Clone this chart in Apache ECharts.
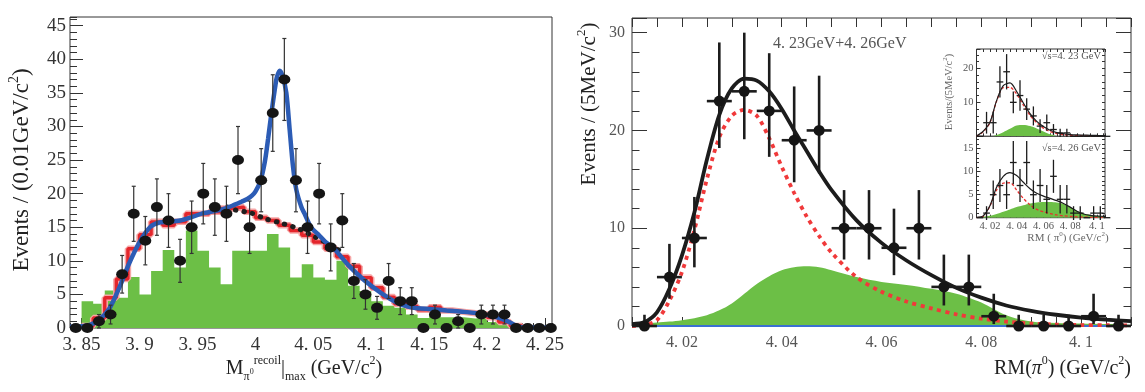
<!DOCTYPE html>
<html>
<head>
<meta charset="utf-8">
<script src="https://cdn.jsdelivr.net/npm/echarts@6/dist/echarts.min.js"></script>
<style>
html, body { margin: 0; padding: 0; background: #fff; }
#main { width: 1145px; height: 392px; }
</style>
</head>
<body>
<div id="main"></div>
<script>
// ---------- left panel: M(pi0 recoil)|max ----------
var leftCenters = [3.845, 3.855, 3.865, 3.875, 3.885, 3.895, 3.905, 3.915, 3.925, 3.935, 3.945, 3.955, 3.965, 3.975,
    3.985, 3.995, 4.005, 4.015, 4.025, 4.035, 4.045, 4.055, 4.065, 4.075, 4.085, 4.095, 4.105, 4.115, 4.125, 4.135,
    4.145, 4.155, 4.165, 4.175, 4.185, 4.195, 4.205, 4.215, 4.225, 4.235, 4.245, 4.255];
var leftCounts = [0, 0, 1, 2, 8, 17, 13, 18, 16, 10, 15, 20, 18, 17, 25, 15, 22, 32, 37, 22, 15, 20, 12, 16, 7, 5, 3, 7,
    4, 4, 0, 2, 0, 1, 0, 2, 2, 2, 0, 0, 0, 0];
var leftErr = [0, 0, 1, 1.4, 2.8, 4.1, 3.6, 4.2, 4, 3.2, 3.9, 4.5, 4.2, 4.1, 5, 3.9, 4.7, 5.7, 6.1, 4.7, 3.9, 4.5, 3.5, 4,
    2.6, 2.2, 1.7, 2.6, 2, 2, 0, 1.4, 0, 1, 0, 1.4, 1.4, 1.4, 0, 0, 0, 0];
// green histogram, bin low edges
var leftGreenLo = [3.85, 3.86, 3.87, 3.88, 3.89, 3.90, 3.91, 3.92, 3.93, 3.94, 3.95, 3.96, 3.97, 3.98, 3.99, 4.00, 4.01,
    4.02, 4.03, 4.04, 4.05, 4.06, 4.07, 4.08, 4.09, 4.10, 4.11, 4.12, 4.13, 4.14, 4.15, 4.16, 4.17, 4.18, 4.19, 4.20, 4.21, 4.22];
var leftGreen = [4.0, 3.6, 5.6, 4.5, 7.6, 5.0, 8.5, 11.6, 9.0, 14.5, 11.5, 9.0, 6.5, 11.5, 11.5, 11.5, 14.0, 12.0, 7.5, 9.5,
    7.5, 7.2, 10.0, 6.3, 5.5, 4.0, 3.3, 3.0, 2.0, 1.5, 2.0, 1.6, 1.6, 1.4, 1.6, 0.9, 0.5, 0];
// red histogram, bin low edges
var leftRedLo = [3.85, 3.86, 3.87, 3.88, 3.89, 3.90, 3.91, 3.92, 3.93, 3.94, 3.95, 3.96, 3.97, 3.98, 3.99, 4.00, 4.01,
    4.02, 4.03, 4.04, 4.05, 4.06, 4.07, 4.08, 4.09, 4.10, 4.11, 4.12, 4.13, 4.14, 4.15, 4.16, 4.17, 4.18, 4.19, 4.20, 4.21, 4.22, 4.23];
var leftRed = [0.3, 1.5, 4.5, 7.3, 11.8, 13.9, 15.8, 15.3, 15.8, 17.0, 17.0, 17.3, 17.8, 18.0, 17.3, 16.4, 16.0, 15.3, 14.5,
    13.8, 12.8, 11.8, 10.6, 9.2, 7.5, 6.0, 4.6, 3.6, 3.2, 2.7, 3.1, 2.6, 2.4, 2.2, 2.0, 1.6, 0.9, 0.3, 0];
// blue total fit
var leftFitX = [3.84, 3.85, 3.857, 3.865, 3.874, 3.883, 3.891, 3.9, 3.909, 3.917, 3.925, 3.935, 3.945, 3.955, 3.965, 3.972,
    3.98, 3.988, 3.993, 3.997, 4.0, 4.004, 4.008, 4.011, 4.014, 4.017, 4.0185, 4.021, 4.0235, 4.0267, 4.0296, 4.0325, 4.0353,
    4.0397, 4.0425, 4.048, 4.055, 4.06, 4.068, 4.08, 4.094, 4.1086, 4.123, 4.1316, 4.14, 4.152, 4.165, 4.18, 4.195, 4.206,
    4.215, 4.224, 4.23, 4.256];
var leftFitY = [0.2, 0.25, 0.45, 1.2, 2.9, 6.2, 9.6, 12.8, 15.0, 15.7, 15.8, 16.0, 16.5, 17.1, 17.4, 17.7, 18.2, 18.8, 19.2,
    19.7, 20.3, 21.7, 24.6, 28.2, 32.2, 35.8, 37.3, 38.3, 37.5, 35.0, 29.5, 24.0, 20.6, 18.0, 17.0, 15.0, 13.8, 12.9, 11.8,
    9.4, 7.1, 5.2, 3.7, 3.2, 2.95, 2.8, 2.6, 2.4, 2.1, 1.7, 1.2, 0.45, 0.1, 0.05];
// black dotted background (visible part)
var leftBkgX = [3.976, 3.982, 3.9966, 4.008, 4.0224, 4.0368, 4.051, 4.0655, 4.072];
var leftBkgY = [18.0, 17.6, 17.1, 16.3, 15.6, 14.8, 13.6, 12.3, 11.6];
var leftXTicks = [3.85, 3.9, 3.95, 4, 4.05, 4.1, 4.15, 4.2, 4.25];
var leftXLabels = ['3. 85', '3. 9', '3. 95', '4', '4. 05', '4. 1', '4. 15', '4. 2', '4. 25'];
var leftYTicks = [0, 5, 10, 15, 20, 25, 30, 35, 40, 45];

// ---------- right panel: RM(pi0), 4.23+4.26 GeV ----------
var rmCenters = [4.0125, 4.0175, 4.0225, 4.0275, 4.0325, 4.0375, 4.0425, 4.0475, 4.0525, 4.0575, 4.0625, 4.0675, 4.0725,
    4.0775, 4.0825, 4.0875, 4.0925, 4.0975, 4.1025, 4.1075];
var rmCounts = [0, 5, 9, 23, 24, 22, 19, 20, 10, 10, 8, 10, 4, 4, 1, 0, 0, 0, 1, 0];
var rmErrLo = [0, 2.2, 3.0, 4.8, 4.9, 4.7, 4.3, 4.4, 3.2, 3.2, 2.8, 3.2, 1.9, 1.9, 0.8, 0, 0, 0, 0.8, 0];
var rmErrHi = [1.15, 3.4, 4.2, 6.0, 6.0, 5.9, 5.5, 5.6, 3.9, 3.9, 4.0, 3.9, 3.3, 3.3, 2.3, 1.15, 1.15, 1.15, 2.3, 1.15];
var rmCurveX = [4.01, 4.0125, 4.015, 4.0175, 4.02, 4.0225, 4.025, 4.0275, 4.03, 4.0325, 4.035, 4.0375, 4.04, 4.0425, 4.045,
    4.0475, 4.05, 4.055, 4.06, 4.065, 4.07, 4.075, 4.08, 4.085, 4.09, 4.095, 4.1, 4.105, 4.11];
var rmTotal = [0.2, 0.4, 1.4, 3.8, 7.2, 11.6, 17.0, 21.6, 24.3, 25.3, 25.1, 24.0, 22.2, 20.0, 17.9, 15.8, 13.9, 10.8, 8.5,
    6.7, 5.2, 3.9, 2.9, 2.1, 1.55, 1.15, 0.85, 0.65, 0.5];
var rmSignal = [0, 0.1, 0.6, 2.6, 5.5, 9.8, 15.0, 19.3, 21.5, 22.1, 21.5, 19.2, 16.3, 13.6, 11.2, 9.2, 7.5, 5.0, 3.5, 2.5,
    1.8, 1.2, 0.75, 0.45, 0.25, 0.15, 0.1, 0.08, 0.06];
var rmBkg = [0.2, 0.25, 0.35, 0.45, 0.6, 0.8, 1.1, 1.6, 2.3, 3.3, 4.3, 5.1, 5.7, 6.0, 6.1, 6.0, 5.7, 5.0, 4.5, 4.2, 3.8, 3.3,
    2.4, 1.1, 0.45, 0.3, 0.25, 0.2, 0.2];
var rmXTicks = [4.02, 4.04, 4.06, 4.08, 4.1];
var rmXLabels = ['4. 02', '4. 04', '4. 06', '4. 08', '4. 1'];
var rmYTicks = [0, 10, 20, 30];

// ---------- inset: 4.23 GeV (top) and 4.26 GeV (bottom) ----------
var insCenters = rmCenters;
var insCurveX = [4.01, 4.015, 4.02, 4.025, 4.03, 4.035, 4.04, 4.045, 4.05, 4.055, 4.06, 4.065, 4.07, 4.075, 4.08, 4.085,
    4.09, 4.095, 4.1, 4.105, 4.11];
var i423Counts = [0, 4, 4, 16, 19, 10, 12, 8, 6, 3, 4, 2, 1, 1, 0, 0, 0, 0, 0, 0];
var i423Err = [0, 3.2, 3.2, 4.6, 5.2, 3.2, 4.5, 3.2, 2.8, 2.0, 2.4, 1.6, 1.2, 1.2, 0, 0, 0, 0, 0, 0];
var i423Total = [0.1, 1.5, 4.1, 10.5, 14.9, 15.7, 13.2, 9.8, 6.7, 4.4, 2.9, 1.8, 1.1, 0.75, 0.5, 0.4, 0.35, 0.3, 0.25, 0.22, 0.2];
var i423Signal = [0, 1.3, 4.0, 10.3, 14.3, 14.4, 12.4, 9.2, 6.2, 4.0, 2.4, 1.4, 0.8, 0.5, 0.3, 0.2, 0.12, 0.08, 0.05, 0.03, 0.02];
var i423Bkg = [0, 0, 0, 0.4, 1.2, 2.2, 3.2, 3.3, 3.0, 2.3, 1.4, 0.6, 0.1, 0, 0, 0, 0, 0, 0, 0, 0];
var i426Counts = [0, 1, 5, 7, 5, 12, 7, 12, 5, 7, 4, 9, 4, 4, 1, 1, 0, 1, 1, 0];
var i426Err = [0, 1.5, 3.1, 3.6, 3.1, 4.7, 3.6, 4.7, 3.1, 3.6, 3.1, 3.6, 3.1, 3.1, 1.5, 1.5, 0, 1.5, 1.5, 0];
var i426Total = [0.1, 0.4, 2.6, 6.6, 9.0, 9.8, 9.2, 7.7, 6.3, 5.3, 4.7, 4.2, 3.7, 3.1, 2.3, 1.4, 0.8, 0.5, 0.35, 0.3, 0.25];
var i426Signal = [0, 0.3, 2.5, 6.0, 7.5, 7.6, 6.0, 4.2, 2.8, 1.8, 1.3, 0.9, 0.6, 0.4, 0.3, 0.2, 0.12, 0.08, 0.05, 0.03, 0.02];
var i426Bkg = [0.1, 0.2, 0.4, 0.8, 1.3, 1.8, 2.3, 2.7, 3.1, 3.3, 3.4, 3.4, 3.3, 3.0, 2.3, 1.5, 0.9, 0.6, 0.4, 0.3, 0.25];
var insXTicks = [4.02, 4.04, 4.06, 4.08, 4.1];
var insXLabels = ['4. 02', '4. 04', '4. 06', '4. 08', '4. 1'];

var binHalf = 0.0025;
var SERIF = 'Liberation Serif';
var GREEN = '#6cbf46';

function zip(xs, ys) {
    return xs.map(function (x, i) { return [x, ys[i]]; });
}
function pick(ticks, labels) {
    return function (v) {
        for (var i = 0; i < ticks.length; i++) {
            if (Math.abs(ticks[i] - v) < 1e-6) return labels[i];
        }
        return '';
    };
}
// thin vertical error bar with small caps (left panel)
function capBars(params, api) {
    var x = api.value(0), y = api.value(1), e = api.value(2);
    if (!(e > 0)) return { type: 'group', children: [] };
    var a = api.coord([x, y + e]), b = api.coord([x, y - e]);
    var s = { stroke: '#333', lineWidth: 1.2 };
    return {
        type: 'group', children: [
            { type: 'line', shape: { x1: a[0], y1: a[1], x2: b[0], y2: b[1] }, style: s },
            { type: 'line', shape: { x1: a[0] - 2, y1: a[1], x2: a[0] + 2, y2: a[1] }, style: s },
            { type: 'line', shape: { x1: b[0] - 2, y1: b[1], x2: b[0] + 2, y2: b[1] }, style: s }
        ]
    };
}
// cross error bars (x half-bin, y lo/hi)
function crossBars(width) {
    return function (params, api) {
        var x = api.value(0), y = api.value(1), lo = api.value(2), hi = api.value(3), hw = api.value(4);
        var l = api.coord([x - hw, y]), r = api.coord([x + hw, y]);
        var t = api.coord([x, y + hi]), b = api.coord([x, y - lo]);
        var s = { stroke: '#1c1c1c', lineWidth: width };
        return {
            type: 'group', children: [
                { type: 'line', shape: { x1: l[0], y1: l[1], x2: r[0], y2: r[1] }, style: s },
                { type: 'line', shape: { x1: t[0], y1: t[1], x2: b[0], y2: b[1] }, style: s }
            ]
        };
    };
}

function tickAxis(o) {
    var ax = {
        type: 'value',
        gridIndex: o.grid,
        min: o.min, max: o.max,
        position: o.pos,
        axisLine: { show: false, onZero: false },
        splitLine: { show: false },
        axisTick: { show: true, inside: true, length: o.len, lineStyle: { color: '#333', width: 1 } },
        axisLabel: { show: false }
    };
    if (o.interval) ax.interval = o.interval;
    if (o.ticks) ax.axisTick.customValues = o.ticks;
    if (o.labels) {
        ax.axisLabel = {
            show: true, customValues: o.labels, formatter: o.fmt,
            fontFamily: SERIF, fontSize: o.fs, color: o.color, margin: o.margin
        };
    }
    return ax;
}

var chart = echarts.init(document.getElementById('main'));

var xAxes = [
    tickAxis({ grid: 0, min: 3.84, max: 4.256, pos: 'bottom', len: 10, ticks: leftXTicks, labels: leftXTicks,
        fmt: pick(leftXTicks, leftXLabels), fs: 19, color: '#333', margin: 8 }),
    tickAxis({ grid: 0, min: 3.84, max: 4.256, pos: 'bottom', len: 5, interval: 0.01 }),
    tickAxis({ grid: 1, min: 4.01, max: 4.11, pos: 'bottom', len: 9, interval: 0.005, labels: rmXTicks,
        fmt: pick(rmXTicks, rmXLabels), fs: 16, color: '#555', margin: 9 }),
    tickAxis({ grid: 1, min: 4.01, max: 4.11, pos: 'top', len: 9, interval: 0.005 }),
    tickAxis({ grid: 2, min: 4.01, max: 4.106, pos: 'bottom', len: 3, interval: 0.005 }),
    tickAxis({ grid: 2, min: 4.01, max: 4.106, pos: 'top', len: 3, interval: 0.005 }),
    tickAxis({ grid: 3, min: 4.01, max: 4.106, pos: 'bottom', len: 3, interval: 0.005, labels: insXTicks,
        fmt: pick(insXTicks, insXLabels), fs: 10.5, color: '#555', margin: 3 })
];
var yAxes = [
    tickAxis({ grid: 0, min: 0, max: 46.3, pos: 'left', len: 13, ticks: leftYTicks, labels: leftYTicks,
        fmt: function (v) { return String(v); }, fs: 19, color: '#333', margin: 4 }),
    tickAxis({ grid: 0, min: 0, max: 46.3, pos: 'left', len: 7, interval: 1 }),
    tickAxis({ grid: 1, min: 0, max: 31.5, pos: 'left', len: 15, interval: 10, labels: rmYTicks,
        fmt: function (v) { return String(v); }, fs: 16, color: '#555', margin: 7 }),
    tickAxis({ grid: 1, min: 0, max: 31.5, pos: 'left', len: 7.5, interval: 2 }),
    tickAxis({ grid: 1, min: 0, max: 31.5, pos: 'right', len: 15, interval: 10 }),
    tickAxis({ grid: 1, min: 0, max: 31.5, pos: 'right', len: 7.5, interval: 2 }),
    tickAxis({ grid: 2, min: 0, max: 25.7, pos: 'left', len: 4, interval: 10, labels: [10, 20],
        fmt: function (v) { return String(v); }, fs: 10.5, color: '#555', margin: 3 }),
    tickAxis({ grid: 2, min: 0, max: 25.7, pos: 'left', len: 2.5, interval: 2 }),
    tickAxis({ grid: 2, min: 0, max: 25.7, pos: 'right', len: 3, interval: 2 }),
    tickAxis({ grid: 3, min: 0, max: 17.7, pos: 'left', len: 4, interval: 5, labels: [0, 5, 10, 15],
        fmt: function (v) { return String(v); }, fs: 10.5, color: '#555', margin: 3 }),
    tickAxis({ grid: 3, min: 0, max: 17.7, pos: 'left', len: 2.5, interval: 1 }),
    tickAxis({ grid: 3, min: 0, max: 17.7, pos: 'right', len: 3, interval: 1 })
];

function curve(data, xi, yi, color, width, dash, z, extra) {
    var s = {
        type: 'line', xAxisIndex: xi, yAxisIndex: yi, data: data, smooth: 0.3,
        symbol: 'none', z: z, silent: true,
        lineStyle: { color: color, width: width, type: dash || 'solid' }
    };
    if (extra) Object.assign(s, extra);
    return s;
}
function areaCurve(data, xi, yi, z) {
    return {
        type: 'line', xAxisIndex: xi, yAxisIndex: yi, data: data, smooth: 0.3,
        symbol: 'none', z: z, silent: true,
        lineStyle: { width: 0 }, areaStyle: { color: GREEN, opacity: 1 }
    };
}
function crossData(counts, lo, hi) {
    return insCenters.map(function (x, i) { return [x, counts[i], lo[i], hi[i], binHalf]; });
}

var series = [
    // left panel
    { type: 'line', xAxisIndex: 0, yAxisIndex: 0, step: 'end', symbol: 'none', z: 1, silent: true,
        data: zip(leftGreenLo, leftGreen), lineStyle: { width: 0 }, areaStyle: { color: GREEN, opacity: 1 } },
    { type: 'line', xAxisIndex: 0, yAxisIndex: 0, step: 'end', symbol: 'none', z: 2, silent: true,
        data: zip(leftRedLo, leftRed), lineStyle: { color: '#f6a6a6', width: 6.5 } },
    { type: 'line', xAxisIndex: 0, yAxisIndex: 0, step: 'end', symbol: 'none', z: 3, silent: true,
        data: zip(leftRedLo, leftRed), lineStyle: { color: '#e4262c', width: 3.4 } },
    curve(zip(leftBkgX, leftBkgY), 0, 0, '#1e1e1e', 5, [0.5, 8], 4, { lineStyle: { color: '#1e1e1e', width: 5, type: [0.5, 8], cap: 'round' } }),
    curve(zip(leftFitX, leftFitY), 0, 0, '#2c5cb5', 4.5, null, 5),
    { type: 'custom', xAxisIndex: 0, yAxisIndex: 0, z: 6, silent: true, renderItem: capBars,
        data: leftCenters.map(function (x, i) { return [x, leftCounts[i], leftErr[i]]; }) },
    { type: 'scatter', xAxisIndex: 0, yAxisIndex: 0, z: 7, silent: true, clip: false, symbol: 'circle',
        symbolSize: [12, 10], itemStyle: { color: '#151515', opacity: 1 }, data: zip(leftCenters, leftCounts) },

    // right panel
    areaCurve(zip(rmCurveX, rmBkg), 2, 2, 1),
    { type: 'line', xAxisIndex: 2, yAxisIndex: 2, symbol: 'none', z: 2, silent: true, clip: false,
        data: [[rmCurveX[0], 0], [rmCurveX[rmCurveX.length - 1], 0]], lineStyle: { color: '#3a6fd2', width: 2 } },
    curve(zip(rmCurveX, rmSignal), 2, 2, '#f0393a', 3.8, [4, 4.5], 3),
    curve(zip(rmCurveX, rmTotal), 2, 2, '#1c1c1c', 3.8, null, 4),
    { type: 'custom', xAxisIndex: 2, yAxisIndex: 2, z: 5, silent: true, renderItem: crossBars(2.6),
        data: rmCenters.map(function (x, i) { return [x, rmCounts[i], rmErrLo[i], rmErrHi[i], binHalf]; }) },
    { type: 'scatter', xAxisIndex: 2, yAxisIndex: 2, z: 6, silent: true, clip: false, symbol: 'circle',
        symbolSize: 11, itemStyle: { color: '#151515', opacity: 1 }, data: zip(rmCenters, rmCounts) },

    // inset 4.23
    areaCurve(zip(insCurveX, i423Bkg), 4, 6, 11),
    curve(zip(insCurveX, i423Signal), 4, 6, '#e8302f', 1.3, [3, 2], 12),
    curve(zip(insCurveX, i423Total), 4, 6, '#1c1c1c', 1.2, null, 13),
    { type: 'custom', xAxisIndex: 4, yAxisIndex: 6, z: 14, silent: true, renderItem: crossBars(1.3),
        data: crossData(i423Counts, i423Err, i423Err) },
    // inset 4.26
    areaCurve(zip(insCurveX, i426Bkg), 6, 9, 11),
    curve(zip(insCurveX, i426Signal), 6, 9, '#e8302f', 1.3, [3, 2], 12),
    curve(zip(insCurveX, i426Total), 6, 9, '#1c1c1c', 1.2, null, 13),
    { type: 'custom', xAxisIndex: 6, yAxisIndex: 9, z: 14, silent: true, renderItem: crossBars(1.3),
        data: crossData(i426Counts, i426Err, i426Err) }
];

var big = { fontFamily: SERIF, fontSize: 20, fill: '#222', lineHeight: 28, verticalAlign: 'middle' };
function tok(size, va, extra) {
    var t = { fontFamily: SERIF, fontSize: size, fill: '#222', lineHeight: size, verticalAlign: va };
    if (extra) Object.assign(t, extra);
    return t;
}

var graphics = [
    { type: 'text', x: 22, y: 170, rotation: Math.PI / 2, silent: true,
        style: { text: '{a|Events / (0.01GeV/c}{s|2}{a|)}', align: 'center', verticalAlign: 'middle',
            rich: { a: Object.assign({}, big, { fontSize: 23, lineHeight: 30 }), s: tok(14, 'top') } } },
    { type: 'text', x: 304, y: 369, silent: true,
        style: { text: '{a|M}{b|π}{c|0}{d|recoil}{a||}{e|max}{a| (GeV/c}{s|2}{a|)}', align: 'center', verticalAlign: 'middle',
            rich: { a: big, b: tok(12, 'bottom'), c: tok(8, 'bottom', { padding: [0, 0, 7, 0] }),
                d: tok(12, 'top'), e: tok(12, 'bottom'), s: tok(12, 'top') } } },
    { type: 'text', x: 589, y: 104, rotation: Math.PI / 2, silent: true,
        style: { text: '{a|Events / (5MeV/c}{s|2}{a|)}', align: 'center', verticalAlign: 'middle',
            rich: { a: Object.assign({}, big, { fontSize: 21, lineHeight: 28 }), s: tok(13, 'top') } } },
    { type: 'text', x: 1131, y: 369, silent: true,
        style: { text: '{a|RM(}{i|π}{s|0}{a|) (GeV/c}{s|2}{a|)}', align: 'right', verticalAlign: 'middle',
            rich: { a: big, i: Object.assign({}, big, { fontStyle: 'italic' }), s: tok(12, 'top') } } },
    { type: 'text', x: 773, y: 44, silent: true,
        style: { text: '4. 23GeV+4. 26GeV', fontFamily: SERIF, fontSize: 16, fill: '#555', align: 'left', verticalAlign: 'middle' } },
    { type: 'text', x: 949, y: 92, rotation: Math.PI / 2, silent: true,
        style: { text: '{a|Events/(5MeV/c}{s|2}{a|)}', align: 'center', verticalAlign: 'middle',
            rich: { a: tok(10.5, 'middle', { fill: '#666', lineHeight: 14 }), s: tok(7, 'top', { fill: '#666' }) } } },
    { type: 'text', x: 1101, y: 56, silent: true,
        style: { text: '√s=4. 23 GeV', fontFamily: SERIF, fontSize: 10.5, fill: '#555', align: 'right', verticalAlign: 'middle' } },
    { type: 'text', x: 1101, y: 148, silent: true,
        style: { text: '√s=4. 26 GeV', fontFamily: SERIF, fontSize: 10.5, fill: '#555', align: 'right', verticalAlign: 'middle' } },
    { type: 'text', x: 1068, y: 238, silent: true,
        style: { text: '{a|RM ( π}{s|0}{a|) (GeV/c}{s|2}{a|)}', align: 'center', verticalAlign: 'middle',
            rich: { a: tok(11, 'middle', { fill: '#666', lineHeight: 15 }), s: tok(7, 'top', { fill: '#666' }) } } }
];

chart.setOption({
    animation: false,
    backgroundColor: '#fff',
    grid: [
        { left: 70, top: 17, width: 482, height: 311, show: true, borderColor: '#333', borderWidth: 1, backgroundColor: 'transparent' },
        { left: 632, top: 18, width: 499, height: 308, show: true, borderColor: '#333', borderWidth: 1, backgroundColor: 'transparent' },
        { left: 976.5, top: 49, width: 128.5, height: 87.3, show: true, borderColor: '#333', borderWidth: 1, backgroundColor: '#fff' },
        { left: 976.5, top: 136.3, width: 128.5, height: 81.4, show: true, borderColor: '#333', borderWidth: 1, backgroundColor: '#fff' }
    ],
    xAxis: xAxes,
    yAxis: yAxes,
    series: series,
    graphic: graphics
});
</script>
</body>
</html>
